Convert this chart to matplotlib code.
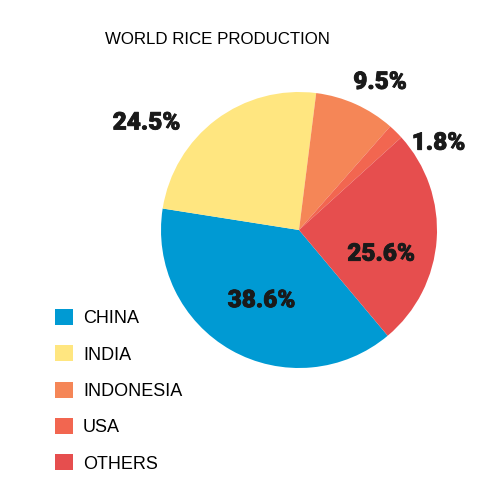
import matplotlib.pyplot as plt
from matplotlib.patches import Patch
import matplotlib.patheffects as pe
import numpy as np

countries = ['CHINA', 'INDIA', 'INDONESIA', 'USA', 'OTHERS']
shares = [38.6, 24.5, 9.5, 1.8, 25.6]
colors = ['#009AD3', '#FFE680', '#F58657', '#F26650', '#E64E4E']

# where each percent label sits: radius (pie units) and angle nudge (deg)
label_r = [0.58, 1.35, 1.22, 1.19, 0.62]
label_dt = [1.5, 18, -4.5, -13.5, -12.5]

fig = plt.figure(figsize=(5, 5), dpi=100)
cx, cy, r = 0.598, 0.54, 0.276
ax = fig.add_axes([cx - r, cy - r, 2 * r, 2 * r])

wedges, _ = ax.pie(shares, colors=colors, startangle=-50, counterclock=False,
                   radius=1, wedgeprops=dict(linewidth=0))
ax.set_xlim(-1, 1)
ax.set_ylim(-1, 1)
ax.set_aspect('equal')
ax.axis('off')

for w, v, lr, dt in zip(wedges, shares, label_r, label_dt):
    mid = np.deg2rad((w.theta1 + w.theta2) / 2 + dt)
    ax.text(lr * np.cos(mid), lr * np.sin(mid), f'{v:.1f}%',
            ha='center', va='center', fontsize=17.5, fontweight='black',
            family=['Roboto', 'DejaVu Sans'], color='#1a1a1a',
            clip_on=False,
            path_effects=[pe.withStroke(linewidth=0.6, foreground='#1a1a1a')])

fig.text(0.21, 0.922, 'WORLD RICE PRODUCTION', fontsize=12.2,
         family='Liberation Sans', va='center', ha='left')

handles = [Patch(facecolor=c, edgecolor='none') for c in colors]
fig.legend(handles, countries, loc='upper left', bbox_to_anchor=(0.11, 0.382),
           frameon=False, prop={'family': 'Liberation Sans', 'size': 13},
           handlelength=1.0, handleheight=1.0, labelspacing=1.0,
           handletextpad=0.55, borderpad=0, borderaxespad=0)

fig.savefig('out.png', dpi=100)
